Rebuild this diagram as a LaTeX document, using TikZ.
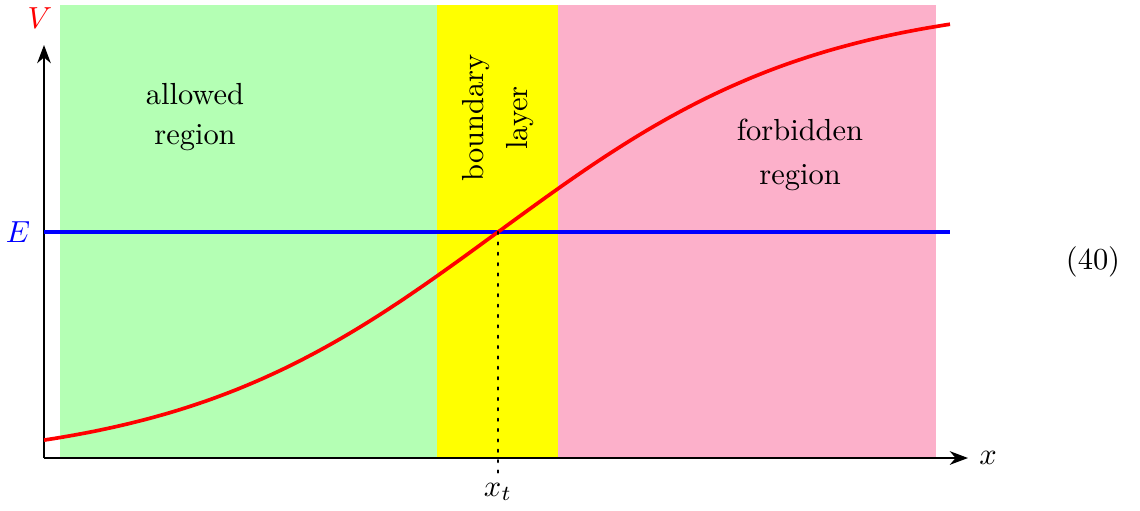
\documentclass[tikz,border=0pt]{standalone}
\usetikzlibrary{arrows.meta}
\definecolor{allowedgreen}{RGB}{180,255,180}
\definecolor{forbidpink}{RGB}{252,176,202}
\definecolor{layeryellow}{RGB}{255,255,0}
\definecolor{curvered}{RGB}{255,0,0}
\definecolor{lineblue}{RGB}{0,0,255}
\tikzset{
  axisline/.style={black, line width=0.4pt, -{Stealth[length=6pt,width=4.5pt]}},
  thickline/.style={line width=1.2pt},
  regionlabel/.style={align=center, inner sep=0pt},
}
\begin{document}
\begin{tikzpicture}[x=0.328pt,y=-0.328pt]
\useasboundingbox (0,0) rectangle (1140,510);
% regions
\fill[allowedgreen] (60,5) rectangle (437,458);
\fill[layeryellow] (437,5) rectangle (558,458);
\fill[forbidpink] (558,5) rectangle (936,458);
% axes
\coordinate (O) at (44,458);
\coordinate (yend) at (44,45);
\coordinate (xend) at (968,458);
\draw[axisline] (O) -- (yend);
\draw[axisline] (O) -- (xend);
\node[curvered] (V) at (40,18) {$V$};
\node (xlab) at (988,458) {$x$};
% energy line
\coordinate (Estart) at (44,232);
\coordinate (Eend) at (950,232);
\node[lineblue] (E) at (18,232) {$E$};
\draw[lineblue, thickline] (Estart) -- (Eend);
% potential
\draw[curvered, thickline] plot[domain=44:950, samples=120, smooth] (\x, {458 - (226 + 234*tanh((\x-498)/320))});
% turning point
\coordinate (tp) at (498,232);
\coordinate (tpbot) at (498,478);
\draw[line width=0.7pt, dash pattern=on 0.7pt off 2.7pt, line cap=round] (tp) -- (tpbot);
\node (xt) at (498,492) {$x_t$};
% labels
\node[regionlabel] (allowed) at (195,117) {allowed\\[1pt]region};
\node[regionlabel, rotate=90] (boundary) at (498,118) {boundary\\[2.5pt]layer};
\node[regionlabel] (forbidden) at (800,155) {forbidden\\[2.4pt]region};
\node (eqnum) at (1093,262) {(40)};
\end{tikzpicture}
\end{document}
